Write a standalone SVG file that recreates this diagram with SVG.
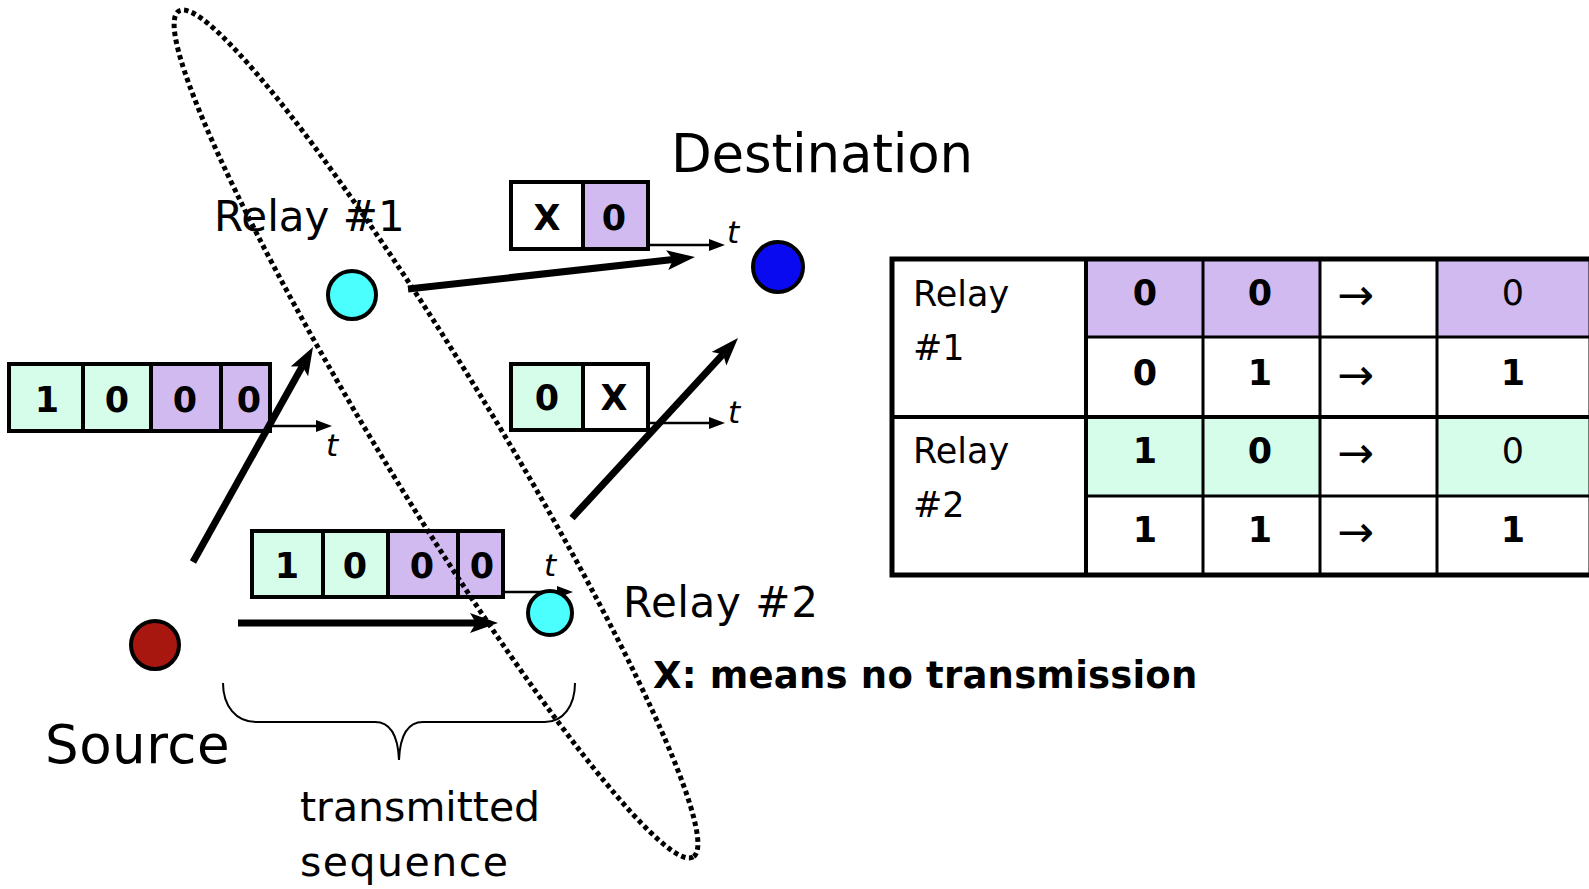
<svg xmlns="http://www.w3.org/2000/svg" width="1589" height="889" viewBox="0 0 1589 889">
<style>
.lbl{font-family:"DejaVu Sans",Verdana,sans-serif;fill:#000}
.big{font-size:53px}
.mid{font-size:42px}
.dig{font-family:"DejaVu Sans",Verdana,sans-serif;font-weight:bold;font-size:35px;text-anchor:middle}
.tcell{font-family:"DejaVu Sans",Verdana,sans-serif;font-size:35px}
.tarr{font-family:"DejaVu Sans",Verdana,sans-serif;font-size:44px}
.tdig{font-family:"DejaVu Sans",Verdana,sans-serif;font-weight:bold;font-size:35px;text-anchor:middle}
.tt{font-family:"DejaVu Sans",Verdana,sans-serif;font-style:italic;font-size:31px}
.box{stroke:#000;stroke-width:4}
.pur{fill:#D0BAF0}
.grn{fill:#D6FCEA}
.wht{fill:#fff}
.node{stroke:#000;stroke-width:4}
.thick{stroke:#000;stroke-width:7;fill:none;marker-end:url(#headThick)}
.thin{stroke:#000;stroke-width:2.5;fill:none;marker-end:url(#headThin)}
.grid{stroke:#000;stroke-width:3;fill:none}
</style>
<defs>
<marker id="headThick" markerUnits="userSpaceOnUse" markerWidth="30" markerHeight="22" refX="6" refY="10" orient="auto">
<path d="M0,0 L28,10 L0,20 L6,10 z" fill="#000"/>
</marker>
<marker id="headThin" markerUnits="userSpaceOnUse" markerWidth="17" markerHeight="13" refX="0" refY="6" orient="auto">
<path d="M0,0 L16,6 L0,12 z" fill="#000"/>
</marker>
</defs>
<rect width="1589" height="889" fill="#fff"/>

<!-- sequence boxes -->
<g id="seq-source-left">
<rect class="grn" x="9" y="364" width="74" height="67"/>
<rect class="grn" x="83" y="364" width="68" height="67"/>
<rect class="pur" x="151" y="364" width="70" height="67"/>
<rect class="pur" x="221" y="364" width="49" height="67"/>
<rect class="box" x="9" y="364" width="261" height="67" fill="none"/>
<path class="box" d="M83,364V431M151,364V431M221,364V431" fill="none"/>
<text class="dig" x="47" y="412">1</text>
<text class="dig" x="117" y="412">0</text>
<text class="dig" x="185" y="412">0</text>
<text class="dig" x="249" y="412">0</text>
<text class="tt" x="326" y="456">t</text>
</g>

<g id="seq-source-bottom">
<rect class="grn" x="252" y="531" width="71" height="66"/>
<rect class="grn" x="323" y="531" width="65" height="66"/>
<rect class="pur" x="388" y="531" width="70" height="66"/>
<rect class="pur" x="458" y="531" width="45" height="66"/>
<rect class="box" x="252" y="531" width="251" height="66" fill="none"/>
<path class="box" d="M323,531V597M388,531V597M458,531V597" fill="none"/>
<text class="dig" x="287" y="578">1</text>
<text class="dig" x="355" y="578">0</text>
<text class="dig" x="422" y="578">0</text>
<text class="dig" x="482" y="578">0</text>
<text class="tt" x="544" y="576">t</text>
</g>

<g id="seq-relay1">
<rect class="wht" x="511" y="182" width="72" height="67"/>
<rect class="pur" x="583" y="182" width="65" height="67"/>
<rect class="box" x="511" y="182" width="137" height="67" fill="none"/>
<path class="box" d="M583,182V249" fill="none"/>
<text class="dig" x="547" y="230">X</text>
<text class="dig" x="614" y="230">0</text>
<text class="tt" x="727" y="243">t</text>
</g>

<g id="seq-relay2">
<rect class="grn" x="511" y="364" width="72" height="66"/>
<rect class="wht" x="583" y="364" width="65" height="66"/>
<rect class="box" x="511" y="364" width="137" height="66" fill="none"/>
<path class="box" d="M583,364V430" fill="none"/>
<text class="dig" x="547" y="410">0</text>
<text class="dig" x="614" y="410">X</text>
<text class="tt" x="728" y="423">t</text>
</g>

<!-- connectors -->
<g id="connectors">
<line class="thin" x1="268" y1="426" x2="316" y2="426"/>
<line class="thin" x1="648" y1="245" x2="709" y2="245"/>
<line class="thin" x1="648" y1="423" x2="709" y2="423"/>
<line class="thin" x1="503" y1="592" x2="557" y2="592"/>
<line class="thick" x1="193" y1="562" x2="302.3" y2="366.2"/>
<line class="thick" x1="408" y1="289" x2="673.1" y2="259.5"/>
<line class="thick" x1="238" y1="623" x2="476" y2="623"/>
<line class="thick" x1="572" y1="518" x2="723.1" y2="354.2"/>
</g>

<!-- nodes -->
<g id="source">
<circle class="node" cx="155" cy="645" r="24" fill="#A8170F"/>
<text class="lbl big" x="45" y="763" letter-spacing="0.5">Source</text>
</g>
<g id="relay1">
<circle class="node" cx="352" cy="295" r="24" fill="#4CFFFF"/>
<text class="lbl mid" x="214" y="231">Relay #1</text>
</g>
<g id="relay2">
<circle class="node" cx="550" cy="613" r="22" fill="#4CFFFF"/>
<text class="lbl mid" x="623" y="617" letter-spacing="0.6">Relay #2</text>
</g>
<g id="destination">
<circle class="node" cx="778" cy="267" r="25" fill="#0A0AF0"/>
<text class="lbl big" x="671" y="172" letter-spacing="-0.2">Destination</text>
</g>

<!-- dotted ellipse -->
<g id="relay-group-ellipse">
<ellipse cx="0" cy="0" rx="495" ry="58" transform="translate(436,434) rotate(58.7)" fill="none" stroke="#000" stroke-width="5" stroke-dasharray="4.5 3.5"/>
</g>

<!-- brace -->
<g id="brace">
<path d="M223,683 C223,706 236,722 256,722 L375,722 C391,722 398,736 399,760 C400,736 407,722 423,722 L545,722 C563,722 575,706 575,683" fill="none" stroke="#000" stroke-width="2"/>
<text class="lbl" font-size="41" x="300" y="821">transmitted</text>
<text class="lbl" font-size="41" x="300" y="876" letter-spacing="1.5">sequence</text>
</g>

<g id="legend">
<text class="lbl" font-weight="bold" font-size="37" x="653" y="688" letter-spacing="0.2">X: means no transmission</text>
</g>

<!-- table -->
<g id="table">
<rect class="pur" x="1086" y="259" width="234" height="78"/>
<rect class="pur" x="1437" y="259" width="154" height="78"/>
<rect class="grn" x="1086" y="417" width="234" height="79"/>
<rect class="grn" x="1437" y="417" width="154" height="79"/>
<path class="grid" d="M1086,337H1591M1086,496H1591M1203,259V575M1320,259V575M1437,259V575"/>
<path d="M1086,259V575M892,417H1591" stroke="#000" stroke-width="4" fill="none"/>
<rect x="892" y="259" width="699" height="316" fill="none" stroke="#000" stroke-width="5"/>
<text class="tcell" x="913" y="306">Relay</text>
<text class="tcell" x="913" y="360">#1</text>
<text class="tcell" x="913" y="463">Relay</text>
<text class="tcell" x="913" y="517">#2</text>
<text class="tdig" x="1145" y="305">0</text>
<text class="tdig" x="1260" y="305">0</text>
<text class="tarr" x="1337" y="310">→</text>
<text class="tcell" x="1513" y="305" text-anchor="middle">0</text>
<text class="tdig" x="1145" y="385">0</text>
<text class="tdig" x="1260" y="385">1</text>
<text class="tarr" x="1337" y="390">→</text>
<text class="tdig" x="1513" y="385">1</text>
<text class="tdig" x="1145" y="463">1</text>
<text class="tdig" x="1260" y="463">0</text>
<text class="tarr" x="1337" y="468">→</text>
<text class="tcell" x="1513" y="463" text-anchor="middle">0</text>
<text class="tdig" x="1145" y="542">1</text>
<text class="tdig" x="1260" y="542">1</text>
<text class="tarr" x="1337" y="547">→</text>
<text class="tdig" x="1513" y="542">1</text>
</g>
</svg>
